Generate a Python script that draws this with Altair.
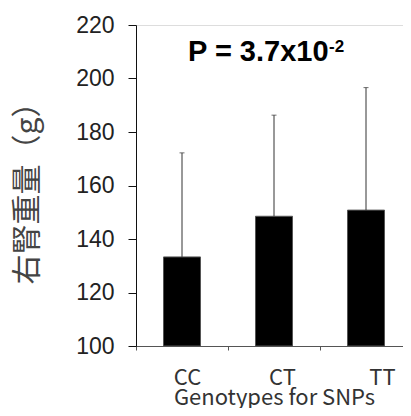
import altair as alt
import pandas as pd

genotypes = ["CC", "CT", "TT"]
means = [133.3, 148.5, 150.8]
uppers = [172.2, 186.3, 196.6]

df = pd.DataFrame({"g": genotypes, "m": means, "u": uppers})

W, H = 276, 321
band = W / 3

x = alt.X(
    "g:N",
    sort=genotypes,
    scale=alt.Scale(paddingInner=0, paddingOuter=0),
    axis=alt.Axis(
        title="Genotypes for SNPs",
        titleFont="Noto Sans CJK JP",
        titleFontSize=22,
        titleFontWeight="normal",
        titleColor="#333",
        titlePadding=-1,
        labelFont="Noto Sans CJK JP",
        labelFontSize=22,
        labelColor="#333",
        labelAngle=0,
        labelPadding=17,
        labelOffset={
            "condition": [
                {"test": "datum.value === 'CC'", "value": band / 2 + 5},
                {"test": "datum.value === 'CT'", "value": band / 2 + 8},
            ],
            "value": band / 2 + 16,
        },
        tickOffset=-band / 2,
        tickSize=4,
        tickColor="#555",
        domainColor="#555",
        labelFlush=False,
    ),
)

y_axis = alt.Axis(
    values=[100, 120, 140, 160, 180, 200, 220],
    title="右腎重量（g）",
    titleFont="Noto Sans CJK JP",
    titleFontSize=30,
    titleFontWeight="normal",
    titleColor="#444",
    titlePadding=33,
    labelFont="Liberation Sans",
    labelFontSize=23,
    labelColor="#222",
    labelPadding=14,
    tickSize=8,
    tickColor="#111",
    domainColor="#111",
    grid=False,
)

base = alt.Chart(df)

bars = base.mark_bar(size=37, color="black", stroke="#555", strokeWidth=1).encode(
    x=x,
    y=alt.Y("m:Q", scale=alt.Scale(domain=[100, 220], nice=False, zero=False), axis=y_axis),
    y2=alt.datum(100),
)

rules = base.mark_rule(color="#333", strokeWidth=1).encode(
    x=alt.X("g:N", sort=genotypes), y="m:Q", y2="u:Q"
)

caps = base.mark_tick(color="#333", size=5, thickness=1).encode(
    x=alt.X("g:N", sort=genotypes), y="u:Q"
)

ptext = alt.Chart(pd.DataFrame({"t": ["P = 3.7x10"]})).mark_text(
    align="left", baseline="alphabetic", font="Liberation Sans", fontWeight="bold",
    fontSize=29, color="black"
).encode(text="t:N", x=alt.value(52), y=alt.value(36))

psup = alt.Chart(pd.DataFrame({"t": ["-2"]})).mark_text(
    align="left", baseline="alphabetic", font="Liberation Sans", fontWeight="bold",
    fontSize=17, color="black"
).encode(text="t:N", x=alt.value(193), y=alt.value(27))

chart = alt.layer(bars, rules, caps, ptext, psup).properties(
    width=W,
    height=H,
    autosize="none",
    padding={"left": 128, "top": 17, "right": -9, "bottom": 62},
).configure_view(stroke=None).configure(background="white")

chart.save("out.html", embed_options={"renderer": "svg", "actions": False})
